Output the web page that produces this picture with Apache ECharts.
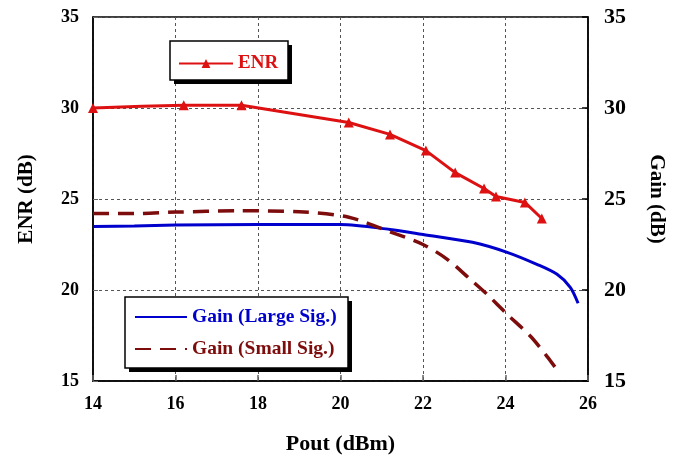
<!DOCTYPE html>
<html>
<head>
<meta charset="utf-8">
<script src="https://cdn.jsdelivr.net/npm/echarts@6/dist/echarts.min.js"></script>
<style>
html,body{margin:0;padding:0;background:#fff;}
#main{width:681px;height:460px;}
</style>
</head>
<body>
<div id="main"></div>
<script>
// ENR (dB) vs Pout (dBm)
var enrX = [14, 15.2, 16.2, 17.6, 20.2, 21.2, 22.07, 22.78, 23.48, 23.77, 24.47, 24.88];
var enrY = [30.0, 30.1, 30.15, 30.15, 29.2, 28.55, 27.66, 26.45, 25.58, 25.14, 24.81, 23.93];
var enrMark = [true, false, true, true, true, true, true, true, true, true, true, true];

// Gain large signal
var gainLX = [14, 15, 16, 18, 20, 21.2, 22, 23.2, 24.04, 24.76, 25.25, 25.57, 25.76];
var gainLY = [23.49, 23.52, 23.57, 23.6, 23.6, 23.33, 23.05, 22.62, 22.07, 21.41, 20.86, 20.15, 19.27];

// Gain small signal
var gainSX = [14, 15, 16, 17.5, 19, 20.2, 21.2, 22.0, 22.58, 23.14, 23.55, 24.04, 24.6, 25.0, 25.2];
var gainSY = [24.2, 24.2, 24.28, 24.35, 24.3, 24.0, 23.2, 22.5, 21.7, 20.6, 19.77, 18.67, 17.47, 16.37, 15.77];

function pairs(xs, ys) {
	var out = [];
	for (var i = 0; i < xs.length; i++) out.push([xs[i], ys[i]]);
	return out;
}

var enrData = [];
for (var i = 0; i < enrX.length; i++) {
	var p = {value: [enrX[i], enrY[i]]};
	if (!enrMark[i]) p.symbol = 'none';
	enrData.push(p);
}

var serif = '"Liberation Serif", "Times New Roman", serif';
var red = '#dd1111', blue = '#0000cc', dred = '#7d0c0c';

// legend frame with a hard drop shadow
function box(x, y, w, h) {
	return [
		{type: 'rect', z: 3, shape: {x: x + 4, y: y + 4, width: w, height: h}, style: {fill: '#000'}},
		{type: 'rect', z: 3, shape: {x: x, y: y, width: w, height: h}, style: {fill: '#fff', stroke: '#000', lineWidth: 1.5}}
	];
}

var myChart = echarts.init(document.getElementById('main'));
var option = {
	backgroundColor: '#fff',
	animation: false,
	graphic: box(170, 41, 118, 39).concat(box(125, 297, 223, 71)),
	grid: {
		left: 93, right: 93, top: 17, bottom: 78,
		show: true, borderColor: '#000', borderWidth: 1.5
	},
	legend: [
		{
			data: [{name: 'ENR', textStyle: {color: red}}],
			left: 178, top: 54, padding: 0,
			itemWidth: 54, itemHeight: 11, itemGap: 6,
			textStyle: {fontFamily: serif, fontWeight: 'bold', fontSize: 19}
		},
		{
			data: [
				{name: 'Gain (Large Sig.)', textStyle: {color: blue}, itemStyle: {color: 'transparent', borderWidth: 0}},
				{name: 'Gain (Small Sig.)', textStyle: {color: dred}, itemStyle: {color: 'transparent', borderWidth: 0}}
			],
			orient: 'vertical',
			left: 134, top: 307, padding: 0,
			itemWidth: 52, itemHeight: 20, itemGap: 12,
			align: 'left',
			textStyle: {fontFamily: serif, fontWeight: 'bold', fontSize: 19.5}
		}
	],
	xAxis: {
		type: 'value', min: 14, max: 26, interval: 2,
		name: 'Pout (dBm)', nameLocation: 'middle', nameGap: 52,
		nameTextStyle: {fontFamily: serif, fontWeight: 'bold', fontSize: 22, color: '#000'},
		axisLine: {lineStyle: {color: '#000', width: 1.5}},
		axisTick: {inside: true, length: 6, lineStyle: {color: '#666', width: 1.5}},
		axisLabel: {fontFamily: serif, fontWeight: 'bold', fontSize: 18, color: '#000', margin: 14},
		splitLine: {show: true, lineStyle: {color: '#555', type: [3, 3], width: 1}}
	},
	yAxis: [
		{
			type: 'value', min: 15, max: 35, interval: 5,
			name: 'ENR (dB)', nameLocation: 'middle', nameGap: 56, nameRotate: 90,
			nameTextStyle: {fontFamily: serif, fontWeight: 'bold', fontSize: 21, color: '#000'},
			axisLine: {show: true, lineStyle: {color: '#000', width: 1.5}},
			axisTick: {show: true, inside: true, length: 5, lineStyle: {color: '#666'}},
			axisLabel: {fontFamily: serif, fontWeight: 'bold', fontSize: 18, color: '#000', margin: 14},
			splitLine: {show: true, lineStyle: {color: '#555', type: [3, 3], width: 1}}
		},
		{
			type: 'value', min: 15, max: 35, interval: 5, position: 'right',
			name: 'Gain (dB)', nameLocation: 'middle', nameGap: 58, nameRotate: -90,
			nameTextStyle: {fontFamily: serif, fontWeight: 'bold', fontSize: 21, color: '#000'},
			axisLine: {show: true, lineStyle: {color: '#000', width: 1.5}},
			axisTick: {show: true, inside: true, length: 6, lineStyle: {color: '#000', width: 1.5}},
			axisLabel: {fontFamily: serif, fontWeight: 'bold', fontSize: 22, color: '#000', margin: 16},
			splitLine: {show: false}
		}
	],
	series: [
		{
			name: 'ENR', type: 'line', yAxisIndex: 0,
			data: enrData,
			symbol: 'triangle', symbolSize: 10,
			itemStyle: {color: red},
			lineStyle: {color: red, width: 3}
		},
		{
			name: 'Gain (Large Sig.)', type: 'line', yAxisIndex: 1,
			data: pairs(gainLX, gainLY),
			symbol: 'none', smooth: 0.3,
			itemStyle: {color: blue},
			lineStyle: {color: blue, width: 3}
		},
		{
			name: 'Gain (Small Sig.)', type: 'line', yAxisIndex: 1,
			data: pairs(gainSX, gainSY),
			symbol: 'none', smooth: 0.3,
			itemStyle: {color: dred},
			lineStyle: {color: dred, width: 3.5, type: [16, 9]}
		}
	]
};
myChart.setOption(option);
</script>
</body>
</html>
